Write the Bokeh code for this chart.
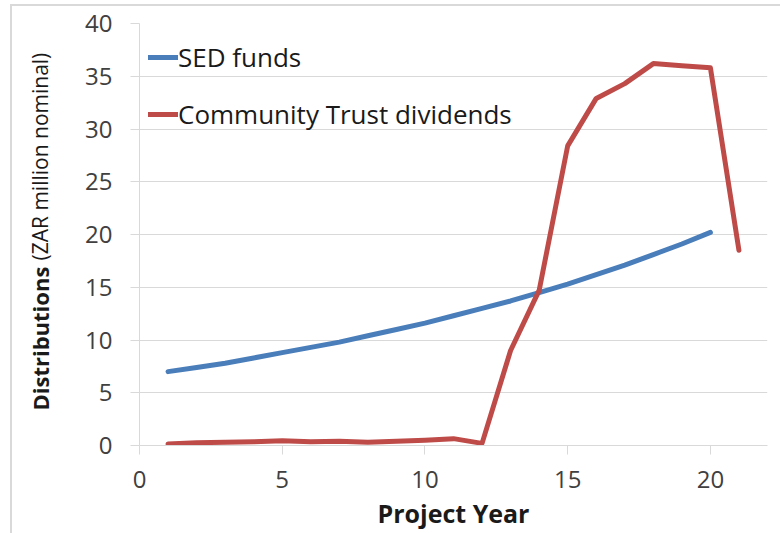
import math
from bokeh.plotting import figure
from bokeh.layouts import row
from bokeh.models import ColumnDataSource, Legend, LegendItem, Label, FixedTicker, Range1d
from bokeh.embed import file_html
from bokeh.resources import INLINE

years = list(range(1, 22))
sed_years = list(range(1, 21))
sed_funds = [7.0, 7.4, 7.8, 8.3, 8.8, 9.3, 9.8, 10.4, 11.0, 11.6,
             12.3, 13.0, 13.7, 14.5, 15.3, 16.2, 17.1, 18.1, 19.1, 20.2]
trust_dividends = [0.15, 0.25, 0.3, 0.35, 0.45, 0.35, 0.4, 0.3, 0.4, 0.5,
                   0.65, 0.2, 9.0, 14.7, 28.4, 32.9, 34.3, 36.2, 36.0, 35.8, 18.5]
x_ticks = [0, 5, 10, 15, 20]
y_ticks = [0, 5, 10, 15, 20, 25, 30, 35, 40]

FONT = "Open Sans"
GRID = "#d9d9d9"
BLUE = "#4a7ebb"
RED = "#be4b48"
TITLE_W = 50
FIG_H = 527

# ---- narrow panel holding the rotated y-axis title ----
pt = figure(width=TITLE_W, height=FIG_H, output_backend="svg", toolbar_location=None,
            x_axis_location=None, y_axis_location=None,
            x_range=Range1d(0, 1), y_range=Range1d(0, 1),
            min_border=0, min_border_left=0, min_border_right=0,
            min_border_top=0, min_border_bottom=0)
pt.outline_line_color = None
pt.xgrid.visible = False
pt.ygrid.visible = False
pt.border_fill_color = "white"
pt.background_fill_color = "white"

lab1 = Label(x=27, y=35, x_units="screen", y_units="screen", angle=math.pi / 2,
             text="Distributions", text_font=FONT, text_font_style="bold",
             text_font_size="22px", text_color="#1a1a1a",
             text_align="left", text_baseline="alphabetic")
lab2 = Label(x=27, y=185, x_units="screen", y_units="screen", angle=math.pi / 2,
             text="(ZAR million nominal)", text_font=FONT,
             text_font_size="21px", text_color="#1a1a1a",
             text_align="left", text_baseline="alphabetic")
pt.add_layout(lab1)
pt.add_layout(lab2)

# ---- main chart ----
p = figure(width=768 - TITLE_W, height=FIG_H, output_backend="svg", toolbar_location=None,
           x_range=Range1d(0, 22), y_range=Range1d(0, 40),
           min_border_left=127 - TITLE_W, min_border_right=13,
           min_border_top=17, min_border_bottom=88)
p.outline_line_color = None
p.background_fill_color = "white"
p.border_fill_color = "white"

p.xgrid.visible = False
p.ygrid.ticker = FixedTicker(ticks=y_ticks)
p.ygrid.grid_line_color = GRID
p.ygrid.grid_line_width = 1

xa = p.xaxis[0]
xa.ticker = FixedTicker(ticks=x_ticks)
xa.axis_line_color = GRID
xa.major_tick_line_color = GRID
xa.major_tick_out = 9
xa.major_tick_in = 0
xa.minor_tick_line_color = None
xa.major_label_text_font = FONT
xa.major_label_text_font_size = "24px"
xa.major_label_text_color = "#404040"
xa.major_label_standoff = 16
xa.axis_label = "Project Year"
xa.axis_label_text_font = FONT
xa.axis_label_text_font_style = "bold"
xa.axis_label_text_font_size = "25px"
xa.axis_label_text_color = "#1a1a1a"
xa.axis_label_standoff = 5

ya = p.yaxis[0]
ya.ticker = FixedTicker(ticks=y_ticks)
ya.axis_line_color = GRID
ya.major_tick_line_color = GRID
ya.major_tick_out = 9
ya.major_tick_in = 0
ya.minor_tick_line_color = None
ya.major_label_text_font = FONT
ya.major_label_text_font_size = "24px"
ya.major_label_text_color = "#404040"
ya.major_label_standoff = 18

src_sed = ColumnDataSource(dict(x=sed_years, y=sed_funds))
src_trust = ColumnDataSource(dict(x=years, y=trust_dividends))

r_sed = p.line("x", "y", source=src_sed, line_color=BLUE, line_width=5,
               line_cap="round", line_join="round")
r_trust = p.line("x", "y", source=src_trust, line_color=RED, line_width=5,
                 line_cap="round", line_join="round")

legend = Legend(items=[LegendItem(label="SED funds", renderers=[r_sed]),
                       LegendItem(label="Community Trust dividends", renderers=[r_trust])],
                location="top_left", margin=9, padding=9, spacing=7,
                glyph_width=30, glyph_height=50, label_height=50, label_standoff=-6,
                background_fill_alpha=0, border_line_color=None,
                label_text_font=FONT, label_text_font_size="26px",
                label_text_color="#1a1a1a")
p.add_layout(legend)

layout = row(pt, p, spacing=0)
layout.styles = {"margin-left": "10px", "margin-top": "4px",
                 "border-left": "2px solid #d9d9d9", "border-top": "2px solid #d9d9d9"}

open("out.html", "w").write(file_html(layout, INLINE))
